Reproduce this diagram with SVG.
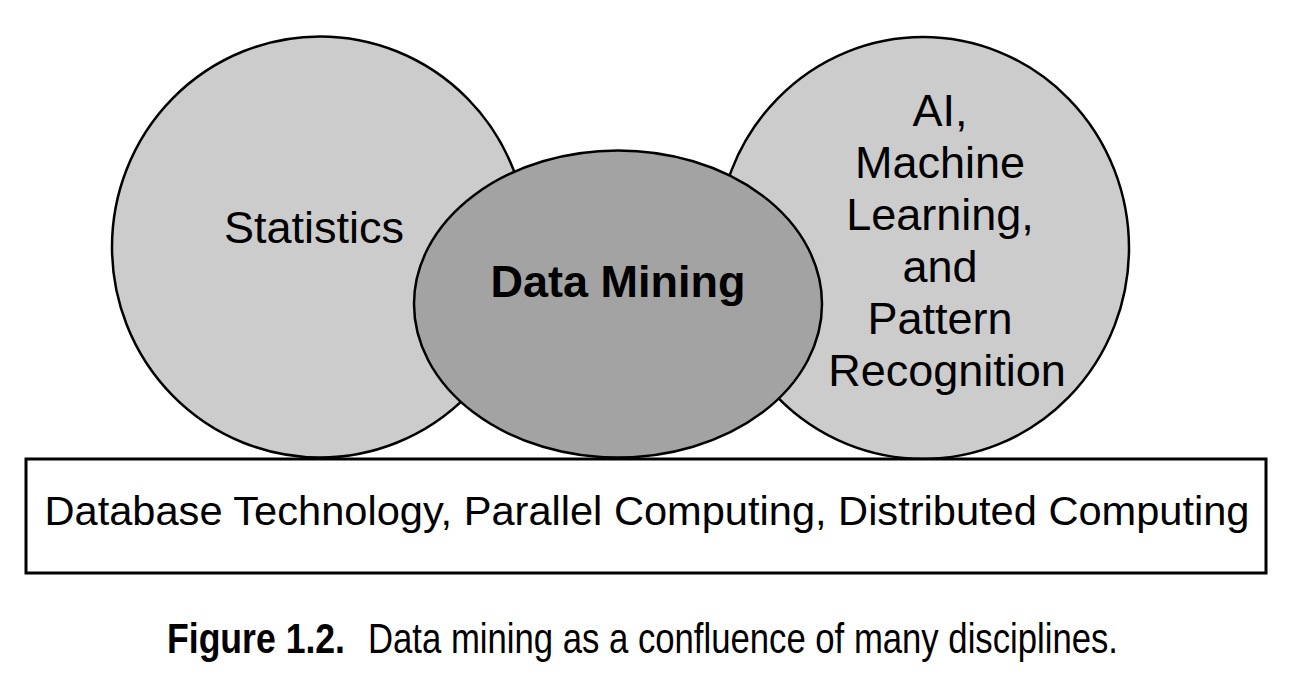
<svg xmlns="http://www.w3.org/2000/svg" width="1294" height="691" viewBox="0 0 1294 691">
<style>
.lt{fill:#cccccc;stroke:#000;stroke-width:2.5}
.dk{fill:#a3a3a3;stroke:#000;stroke-width:2.5}
.box{fill:#fff;stroke:#000;stroke-width:3}
.t{font-family:"Liberation Sans",Arial,sans-serif;fill:#000;text-anchor:middle}
</style>
<rect width="1294" height="691" fill="#fff"/>
<g id="statistics">
<ellipse class="lt" cx="320" cy="247" rx="208" ry="210.5"/>
<text class="t" x="314" y="243" font-size="45">Statistics</text>
</g>
<g id="ai-ml-pr">
<ellipse class="lt" cx="923" cy="248" rx="206" ry="211"/>
<text class="t" x="940" y="126" font-size="45">AI,</text>
<text class="t" x="940" y="178" font-size="45">Machine</text>
<text class="t" x="940" y="230" font-size="45">Learning,</text>
<text class="t" x="940" y="282" font-size="45">and</text>
<text class="t" x="940" y="334" font-size="45">Pattern</text>
<text class="t" x="947" y="386" font-size="45">Recognition</text>
</g>
<g id="data-mining">
<ellipse class="dk" cx="618" cy="304" rx="204" ry="153.5"/>
<text class="t" x="618" y="297" font-size="45" font-weight="bold">Data Mining</text>
</g>
<g id="database">
<rect class="box" x="26" y="459" width="1240" height="114"/>
<text class="t" x="647" y="525" font-size="41" textLength="1205" lengthAdjust="spacingAndGlyphs">Database Technology, Parallel Computing, Distributed Computing</text>
</g>
<g id="caption">
<text x="167" y="653" font-family="'Liberation Sans',Arial,sans-serif" font-size="42" font-weight="bold" textLength="178" lengthAdjust="spacingAndGlyphs">Figure 1.2.</text>
<text x="368" y="653" font-family="'Liberation Sans',Arial,sans-serif" font-size="42" textLength="750" lengthAdjust="spacingAndGlyphs">Data mining as a confluence of many disciplines.</text>
</g>
<g id="connectors"></g>
</svg>
